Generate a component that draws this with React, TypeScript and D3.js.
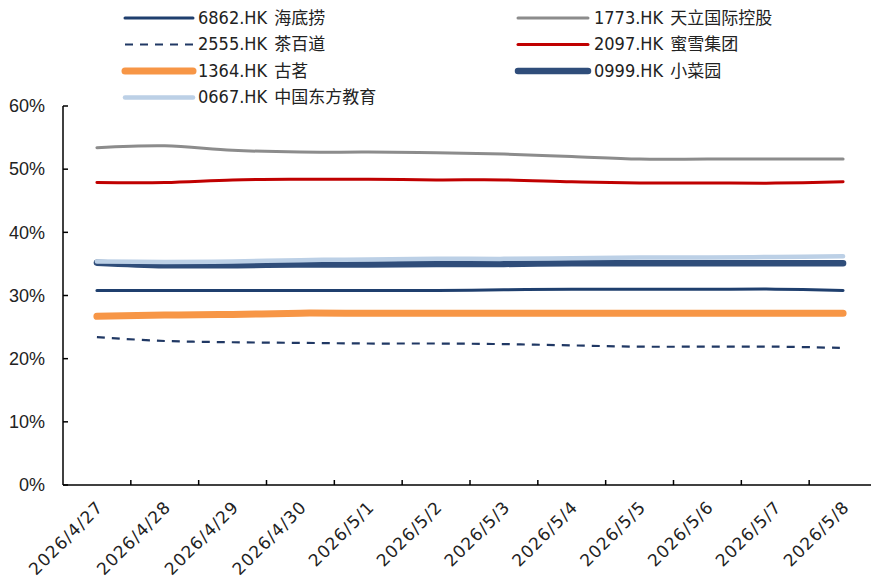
import React from "react";
import * as d3 from "d3";

const dates = ["2026/4/27","2026/4/28","2026/4/29","2026/4/30","2026/5/1","2026/5/2","2026/5/3","2026/5/4","2026/5/5","2026/5/6","2026/5/7","2026/5/8"];
const yTicks = [0, 10, 20, 30, 40, 50, 60];

const s6862 = [30.8,30.8,30.8,30.8,30.8,30.8,30.9,31.0,31.0,31.0,31.0,30.8];
const s1773 = [53.4,53.7,53.0,52.7,52.7,52.6,52.4,52.0,51.6,51.6,51.6,51.6];
const s2555 = [23.4,22.8,22.6,22.5,22.4,22.4,22.3,22.1,21.9,21.9,21.9,21.7];
const s2097 = [47.9,47.9,48.3,48.4,48.4,48.3,48.3,48.0,47.8,47.8,47.8,48.0];
const s1364 = [26.7,26.9,27.0,27.2,27.2,27.2,27.2,27.2,27.2,27.2,27.2,27.2];
const s0999 = [35.2,34.8,34.8,34.9,34.9,35.0,35.0,35.1,35.1,35.1,35.1,35.1];
const s0667 = [35.4,35.3,35.4,35.6,35.7,35.8,35.8,35.9,36.0,36.0,36.1,36.2];

const codes = ["6862.HK", "1773.HK", "2555.HK", "2097.HK", "1364.HK", "0999.HK", "0667.HK"];
const names = ["海底捞", "天立国际控股", "茶百道", "蜜雪集团", "古茗", "小菜园", "中国东方教育"];

const series = [
  { code: codes[0], name: names[0], values: s6862, color: "#1F3F6E", width: 3, dash: "" },
  { code: codes[1], name: names[1], values: s1773, color: "#8C8C8C", width: 3, dash: "" },
  { code: codes[2], name: names[2], values: s2555, color: "#203864", width: 2.2, dash: "8,7" },
  { code: codes[3], name: names[3], values: s2097, color: "#C00000", width: 3, dash: "" },
  { code: codes[4], name: names[4], values: s1364, color: "#F79646", width: 7, dash: "" },
  { code: codes[5], name: names[5], values: s0999, color: "#2F4D7A", width: 6.5, dash: "" },
  { code: codes[6], name: names[6], values: s0667, color: "#BCD0E6", width: 4.5, dash: "" },
];

const W = 871, H = 579;
const left = 63, right = 877, top = 106, bottom = 485;
const font = "'Liberation Sans', Arial, 'Noto Sans CJK SC', sans-serif";
const narrow = "'Liberation Sans Narrow', 'DejaVu Sans Condensed', 'Liberation Sans', sans-serif";
const cjk = "'Noto Sans CJK SC', sans-serif";
const wide = "'DejaVu Sans', 'Liberation Sans', sans-serif";

export default function App() {
  const x = d3.scaleBand<string>().domain(dates).range([left, right]);
  const y = d3.scaleLinear().domain([0, 60]).range([bottom, top]);
  const line = d3.line<number>()
    .x((_, i) => (x(dates[i]) as number) + x.bandwidth() / 2)
    .y(v => y(v))
    .curve(d3.curveCatmullRom.alpha(0.5));

  const legendCols = [
    { lx0: 125, lx1: 193, tx: 198 },
    { lx0: 518, lx1: 588, tx: 594 },
  ];
  const rowY = [18, 44.5, 71, 97.5];

  return (
    <svg width={W} height={H} style={{ position: "absolute", left: 0, top: 0, background: "#fff" }}>
      <rect x={0} y={0} width={W} height={H} fill="#fff" />
      {/* legend */}
      {series.map((s, i) => {
        const col = legendCols[i % 2];
        const ry = rowY[Math.floor(i / 2)];
        return (
          <g key={s.code}>
            <line x1={col.lx0} x2={col.lx1} y1={ry} y2={ry} stroke={s.color}
              strokeWidth={s.width} strokeDasharray={s.dash || undefined} strokeLinecap={s.dash ? "butt" : "round"} />
            <text x={col.tx} y={ry} dy="0.35em" fill="#222">
              <tspan fontFamily={narrow} fontSize={18}>{s.code}</tspan>
              <tspan fontFamily={cjk} fontSize={17} dx={7}>{s.name}</tspan>
            </text>
          </g>
        );
      })}
      {/* lines */}
      {series.map(s => (
        <path key={s.code} d={line(s.values) || ""} fill="none" stroke={s.color}
          strokeWidth={s.width} strokeDasharray={s.dash || undefined}
          strokeLinecap={s.dash ? "butt" : "round"} strokeLinejoin="round" />
      ))}
      {/* axes */}
      <line x1={left} x2={left} y1={top} y2={bottom} stroke="#000" strokeWidth={1.5} />
      <line x1={left} x2={W} y1={bottom} y2={bottom} stroke="#000" strokeWidth={1.5} />
      {yTicks.map(t => (
        <g key={t}>
          <line x1={left} x2={left + 5} y1={y(t)} y2={y(t)} stroke="#000" strokeWidth={1.5} />
          <text x={45} y={y(t)} dy="0.35em" textAnchor="end" fontSize={18} fontFamily={font} fill="#222">{t}%</text>
        </g>
      ))}
      {dates.slice(1).map(d => (
        <line key={d} x1={x(d) as number} x2={x(d) as number} y1={bottom} y2={bottom - 5} stroke="#000" strokeWidth={1.5} />
      ))}
      {dates.map(d => {
        const cx = (x(d) as number) + x.bandwidth() / 2;
        return (
          <text key={d} transform={`translate(${cx + 3},${bottom + 19}) rotate(-45)`} textAnchor="end"
            dy="0.35em" fontSize={17} letterSpacing={1} fontFamily={wide} fill="#222">{d}</text>
        );
      })}
    </svg>
  );
}
